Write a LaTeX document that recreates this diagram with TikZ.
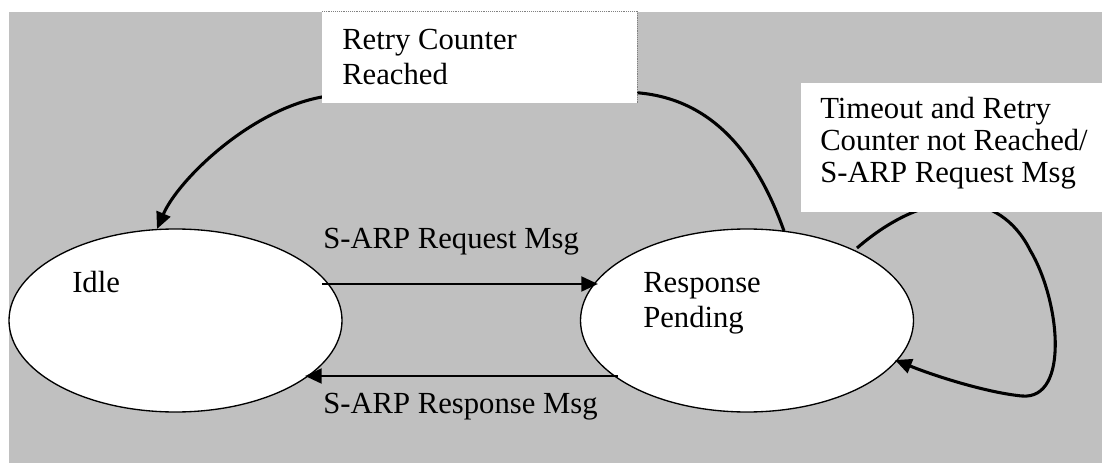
\documentclass[tikz,border=0pt]{standalone}
\usepackage{fontspec}
\setmainfont{Liberation Serif}
\usetikzlibrary{arrows.meta,shapes.geometric}
\newcommand{\stacklines}[1]{\begin{tabular}[t]{@{}l@{}}#1\end{tabular}}
\definecolor{panel}{RGB}{192,192,192}
\tikzset{
  state/.style={ellipse, draw=black, line width=1pt, fill=white, inner sep=0pt,
    minimum width=249.75pt, minimum height=137.25pt},
  txt/.style={anchor=base west, inner sep=0pt, font=\fontsize{23}{26.25}\selectfont},
  txtnarrow/.style={anchor=base west, inner sep=0pt, font=\fontsize{23}{24}\selectfont},
  notebox/.style={rectangle, fill=white, draw=none, inner sep=0pt, anchor=north west},
  boxedge/.style={draw=gray, line width=0.4pt, densely dotted},
  arr/.style={line width=2.2pt, -{Triangle[length=12.5pt, width=11pt]}},
  curvearr/.style={line width=2.3pt, -{Triangle[length=12.5pt, width=11pt]}},
}
\begin{document}
\begin{tikzpicture}[x=0.75pt, y=-0.75pt]
  \useasboundingbox (0,0) rectangle (1102,463);
  % background panel
  \fill[panel] (9,12) rectangle (1102,463);

  % states
  \node[state] (idle) at (175.5,320.5) {};
  \node[state] (rp) at (747,320.5) {};
  \node[txt] (idlelbl) at (72,292) {Idle};
  \node[txt] (rplbl) at (643,292) {\stacklines{Response\\Pending}};

  % endpoints on the state borders
  \coordinate (reqS) at ([shift={(146.5,-36.5)}]idle.center);
  \coordinate (reqE) at ([shift={(-149,-36.5)}]rp.center);
  \coordinate (resS) at ([shift={(-129,55.5)}]rp.center);
  \coordinate (resE) at ([shift={(129.5,55.5)}]idle.center);
  \coordinate (topS) at ([shift={(37,-89.5)}]rp.center);
  \coordinate (topE) at ([shift={(-18.5,-91.5)}]idle.center);
  \coordinate (loopS) at ([shift={(110,-72.5)}]rp.center);
  \coordinate (loopE) at ([shift={(148,39.5)}]rp.center);

  % transitions between the states
  \draw[arr] (reqS) -- (reqE);
  \draw[arr] (resS) -- (resE);
  \node[txt] (reqlbl) at (323,248) {S-ARP Request Msg};
  \node[txt] (reslbl) at (323,413) {S-ARP Response Msg};

  % retry limit: back to idle
  \draw[curvearr] (topS) .. controls (755,150) and (710,100) .. (640,93)
    .. controls (560,85) and (400,85) .. (322,97)
    .. controls (250,110) and (178,180) .. (topE);

  % timeout: self loop
  \draw[curvearr] (loopS) .. controls (930,185) and (1000,190) .. (1030,250)
    .. controls (1060,300) and (1070,400) .. (1022,396)
    .. controls (990,393) and (940,378) .. (loopE);

  % transition labels on white boxes
  \node[notebox, minimum width=236.25pt, minimum height=69pt] (b1) at (322,11) {};
  \draw[boxedge] (b1.north west) -- (b1.north east) -- (b1.south east);
  \node[txt] (b1lbl) at (342,50) {\stacklines{Retry Counter\\Reached}};

  \node[notebox, minimum width=225.75pt, minimum height=96.75pt] (b2) at (801,83) {};
  \node[txtnarrow] (b2lbl) at (820,119) {\stacklines{Timeout and Retry\\Counter not Reached/\\S-ARP Request Msg}};
\end{tikzpicture}
\end{document}
